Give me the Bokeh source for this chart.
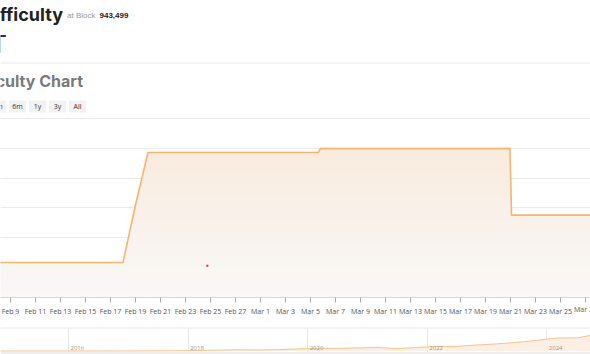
import pandas as pd
from bokeh.plotting import figure
from bokeh.layouts import column
from bokeh.models import (Range1d, FixedTicker, SingleIntervalTicker, Grid, Span,
                          BoxAnnotation, CustomJSTickFormatter, Label)
from bokeh.core.properties import value
from bokeh.embed import file_html
from bokeh.resources import INLINE

# ---------------- data ----------------
block_height = "943,499"
current_difficulty = "133.83 T"
range_buttons = ["3m", "6m", "1y", "3y", "All"]

diff_times = ["2026-02-07 12:00", "2026-02-18 00:00", "2026-02-19 00:00",
              "2026-02-20 00:00", "2026-03-05 15:00", "2026-03-05 19:00",
              "2026-03-20 23:00", "2026-03-21 02:00", "2026-03-28 12:00"]
diff_values = [125.86, 125.86, 135.5, 144.3, 144.3, 144.95, 144.95, 133.8, 133.8]

tick_labels = ["Feb 9", "Feb 11", "Feb 13", "Feb 15", "Feb 17", "Feb 19", "Feb 21",
               "Feb 23", "Feb 25", "Feb 27", "Mar 1", "Mar 3", "Mar 5", "Mar 7",
               "Mar 9", "Mar 11", "Mar 13", "Mar 15", "Mar 17", "Mar 19", "Mar 21",
               "Mar 23", "Mar 25", "Mar 27"]

marker_time = ["2026-02-24 18:00"]
marker_value = [125.33]

nav_dates = ["2014-11-01", "2015-03-01", "2015-07-01", "2015-11-01", "2016-03-01",
             "2016-07-01", "2016-11-01", "2017-03-01", "2017-07-01", "2017-11-01",
             "2018-03-01", "2018-07-01", "2018-11-01", "2019-03-01", "2019-07-01",
             "2019-11-01", "2020-03-01", "2020-07-01", "2020-11-01", "2021-03-01",
             "2021-07-01", "2021-11-01", "2022-03-01", "2022-07-01", "2022-11-01",
             "2023-03-01", "2023-07-01", "2023-11-01", "2024-03-01", "2024-07-01",
             "2024-11-01", "2025-03-01", "2025-07-01", "2025-11-01", "2026-02-10",
             "2026-03-27"]
nav_values = [0.04, 0.047, 0.049, 0.066, 0.16, 0.21, 0.25, 0.44, 0.71, 1.35,
              3.0, 5.1, 7.2, 6.1, 7.9, 13.0, 15.5, 16.1, 18.7, 21.7,
              14.4, 22.3, 27.5, 28.2, 36.8, 43.1, 52.4, 64.7, 79.4, 79.5,
              101.6, 113.8, 116.9, 155.0, 125.9, 133.8]
nav_year_labels = ["2016", "2018", "2020", "2022", "2024"]

W = 590
LINE = "#f7b46c"
HEAD_H = 117

# ---------------- header ----------------
head = figure(width=W, height=HEAD_H, x_range=Range1d(0, W), y_range=Range1d(HEAD_H, 0),
              output_backend="svg", toolbar_location=None,
              x_axis_location=None, y_axis_location=None, min_border=0)
head.outline_line_color = None
head.xgrid.grid_line_color = None
head.ygrid.grid_line_color = None

head.text(x=[62.5], y=[13.5], text=["Difficulty"], text_align="right",
          text_baseline="alphabetic", text_font=value("Inter"), text_font_style="bold",
          text_font_size="18px", text_color="#222222")
head.text(x=[66.5], y=[14.5], text=["at Block"], text_align="left",
          text_baseline="alphabetic", text_font=value("Liberation Sans"),
          text_font_size="8px", text_color="#999999")
head.text(x=[99], y=[14.5], text=[block_height], text_align="left",
          text_baseline="alphabetic", text_font=value("Liberation Sans"),
          text_font_style="bold", text_font_size="8px", text_color="#222222")
head.text(x=[6.5], y=[43.5], text=[current_difficulty], text_align="right",
          text_baseline="alphabetic", text_font=value("Inter"),
          text_font_size="24px", text_color="#333333")
head.add_layout(Span(location=62.5, dimension="width", line_color="#e8e8e8", line_width=1))
head.text(x=[82.5], y=[80.5], text=["Difficulty Chart"], text_align="right",
          text_baseline="alphabetic", text_font=value("Inter"), text_font_style="bold",
          text_font_size="16px", text_color="#7a7a7a")
btn_x = [-3 + 20 * i for i in range(len(range_buttons))]
head.rect(x=btn_x, y=106, width=17, height=12, fill_color="#f2f2f2", line_color=None)
head.text(x=btn_x, y=106, text=range_buttons, text_align="center",
          text_baseline="middle", text_font=value("Open Sans"),
          text_font_size="7px", text_color="#333333")

# ---------------- main chart ----------------
t = pd.to_datetime(diff_times)
main = figure(width=W, height=210, x_axis_type="datetime", y_axis_location=None,
              x_range=Range1d(pd.Timestamp("2026-02-08 04:48"), pd.Timestamp("2026-03-27 09:36")),
              y_range=Range1d(120, 150 + 1 / 6), output_backend="svg", toolbar_location=None,
              min_border_left=0, min_border_right=0, min_border_top=0, min_border_bottom=29)
main.outline_line_color = None
main.xgrid.grid_line_color = None
main.ygrid.grid_line_color = None
main.add_layout(Grid(dimension=1, ticker=SingleIntervalTicker(interval=5),
                     grid_line_color="#ebebeb", grid_line_width=1))

main.varea(x=t, y1=120, y2=diff_values, fill_color="#f9f8f7", fill_alpha=1)
for lvl in range(121, 149, 2):
    main.varea(x=t, y1=lvl, y2=[max(v, lvl) for v in diff_values],
               fill_color="#f4d3b5", fill_alpha=0.03)
main.line(x=t, y=diff_values, line_color=LINE, line_width=1.6)
main.scatter(x=pd.to_datetime(marker_time), y=marker_value, marker="square", size=2,
             fill_color="#e3263a", line_color=None)

tick_ms = [float(pd.Timestamp(f"{lab} 2026").value // 10**6) for lab in tick_labels]
# last label sits on the right edge and is cut there; it is drawn as a free label
axis_labels = tick_labels[:-1] + [""]
main.xaxis.ticker = FixedTicker(ticks=tick_ms)
main.xaxis.formatter = CustomJSTickFormatter(
    args=dict(tk=tick_ms, lb=axis_labels),
    code="for (let i = 0; i < tk.length; i++) { if (Math.abs(tk[i] - tick) < 1000) return lb[i]; } return '';")
main.xaxis.axis_line_color = "#d6d6d6"
main.xaxis.major_tick_line_color = "#aaaaaa"
main.xaxis.major_tick_out = 5
main.xaxis.major_tick_in = 0
main.xaxis.minor_tick_line_color = None
main.xaxis.major_label_standoff = 4
main.xaxis.major_label_text_font = "Open Sans"
main.xaxis.major_label_text_font_size = "7px"
main.xaxis.major_label_text_color = "#555555"
main.add_layout(Label(x=tick_ms[-1], y=118.0, text=tick_labels[-1],
                      text_align="center", text_baseline="middle", text_font="Open Sans",
                      text_font_size="7px", text_color="#555555"), "below")

# ---------------- navigator ----------------
nt = pd.to_datetime(nav_dates)
nav = figure(width=W, height=27, x_axis_type="datetime",
             x_axis_location=None, y_axis_location=None,
             x_range=Range1d(pd.Timestamp("2014-11-11 14:00"), pd.Timestamp("2024-09-24")),
             y_range=Range1d(-21.3, 136.9), output_backend="svg", toolbar_location=None,
             min_border_left=0, min_border_right=0, min_border_top=1, min_border_bottom=0)
nav.border_fill_color = "#cccccc"
nav.background_fill_color = "#ffffff"
nav.outline_line_color = None
nav.xgrid.grid_line_color = None
nav.ygrid.grid_line_color = None
year_ms = [float(pd.Timestamp(f"{y}-01-01").value // 10**6) for y in nav_year_labels]
nav.add_layout(Grid(dimension=0, ticker=FixedTicker(ticks=year_ms),
                    grid_line_color="#e6e6e6", grid_line_width=1))
nav.varea(x=nt, y1=0, y2=nav_values, fill_color="#fbefe4", fill_alpha=1)
nav.line(x=nt, y=nav_values, line_color="#f7c28c", line_width=1)
nav.text(x=pd.to_datetime([f"{y}-01-01" for y in nav_year_labels]), y=19,
         text=nav_year_labels, x_offset=2, text_align="left", text_baseline="alphabetic",
         text_font=value("Open Sans"), text_font_size="6px", text_color="#999999")
nav.add_layout(BoxAnnotation(top=-6, fill_color="#eeeeee", fill_alpha=1, line_color=None))

layout = column(head, main, nav, spacing=0)
open("out.html", "w").write(file_html(layout, INLINE))
